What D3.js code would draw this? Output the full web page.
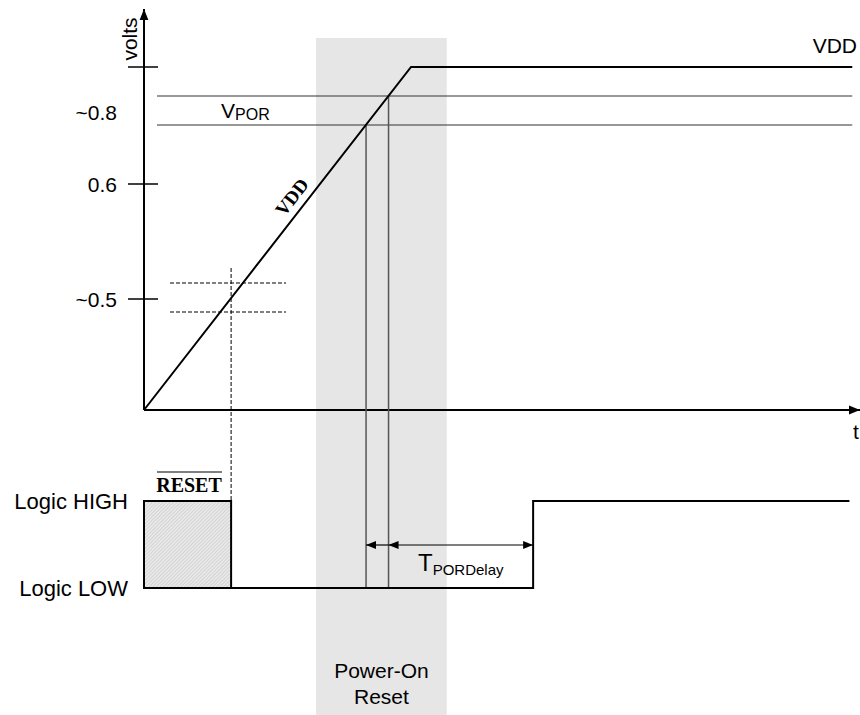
<!DOCTYPE html>
<html><head><meta charset="utf-8">
<script src="https://cdn.jsdelivr.net/npm/d3@7"></script>
<style>body{margin:0;background:#fff}svg{display:block}</style>
</head><body><svg id="c" width="860" height="715" font-family="Liberation Sans, Arial, sans-serif"></svg>
<script>
// time in arbitrary units (0..100), voltage normalized (0..1)
const rampPoints = [[0,0],[37.4,0.8575],[99.2,0.8575]];
const voltTicks = [{label:"VDD",v:0.8575},{label:"0.6",v:0.565},{label:"~0.5",v:0.2775}];
const tickOnlyLabel = [{label:"~0.8",v:0.745}];
const vporLevels = [0.785,0.7125];
const halfBand = [0.3175,0.245];
const resetRelease = 12.2;
const porCross = [31.1,34.25];
const porDelayEnd = 54.5;
const porRegion = [24.1,42.4];
const logicSignal = [[12.2,0],[54.5,0],[54.5,1],[98.8,1]];
const resetBox = [0,12.2];
const logicLabels = ["Logic LOW","Logic HIGH"];

const svg = d3.select("#c");
const x = d3.scaleLinear().domain([0,100]).range([144,858]);
const y = d3.scaleLinear().domain([0,1]).range([410,10]);
const yl = d3.scaleLinear().domain([0,1]).range([588,501]);
const FS = 21;

const defs = svg.append("defs");
const pat = defs.append("pattern").attr("id","hatch").attr("patternUnits","userSpaceOnUse")
  .attr("width",2.5).attr("height",2.5).attr("patternTransform","rotate(45)");
pat.append("rect").attr("width",2.5).attr("height",2.5).attr("fill","#e8e8e8");
pat.append("line").attr("x1",0).attr("y1",0).attr("x2",0).attr("y2",2.5).attr("stroke","#c4c4c4").attr("stroke-width",1);
const mk = (id,orient,w)=>{ const m=defs.append("marker").attr("id",id).attr("viewBox","0 0 10 10").attr("refX",10).attr("refY",5)
  .attr("markerWidth",w).attr("markerHeight",w).attr("markerUnits","userSpaceOnUse").attr("orient",orient);
  m.append("path").attr("d","M0,1 L10,5 L0,9 Z").attr("fill","#000"); };
mk("arr","auto",11); mk("arrs","auto-start-reverse",10); mk("arre","auto",10);

// shaded POR region
svg.append("rect").attr("x",x(porRegion[0])).attr("y",38).attr("width",x(porRegion[1])-x(porRegion[0])).attr("height",715-38).attr("fill","#e6e6e6");

// axes
svg.append("line").attr("x1",x(0)).attr("y1",y(0)).attr("x2",x(0)).attr("y2",9).attr("stroke","#000").attr("stroke-width",2).attr("marker-end","url(#arr)");
svg.append("line").attr("x1",x(0)).attr("y1",y(0)).attr("x2",860).attr("y2",y(0)).attr("stroke","#000").attr("stroke-width",2).attr("marker-end","url(#arr)");
svg.append("text").attr("x",853).attr("y",439).attr("font-size",FS).text("t");
svg.append("text").attr("transform","translate(137,39) rotate(-90)").attr("text-anchor","middle").attr("font-size",FS).text("volts");

voltTicks.forEach(t=>{
  svg.append("line").attr("x1",128).attr("x2",158).attr("y1",y(t.v)).attr("y2",y(t.v)).attr("stroke","#000").attr("stroke-width",1.5);
  if(t.label!=="VDD") svg.append("text").attr("x",117).attr("y",y(t.v)+7.5).attr("text-anchor","end").attr("font-size",FS).text(t.label);
});
tickOnlyLabel.forEach(t=>svg.append("text").attr("x",117).attr("y",y(t.v)+7.5).attr("text-anchor","end").attr("font-size",FS).text(t.label));
svg.append("text").attr("x",857).attr("y",53).attr("text-anchor","end").attr("font-size",FS).text("VDD");

// VPOR lines
vporLevels.forEach(v=>svg.append("line").attr("x1",157).attr("x2",x(99.2)).attr("y1",y(v)).attr("y2",y(v)).attr("stroke","#333").attr("stroke-width",1.2));
const vp = svg.append("text").attr("x",221).attr("y",118).attr("font-size",FS);
vp.append("tspan").text("V"); vp.append("tspan").attr("font-size",16).attr("dy",2).text("POR");

// dashed half band
halfBand.forEach(v=>svg.append("line").attr("x1",170).attr("x2",286).attr("y1",y(v)).attr("y2",y(v)).attr("stroke","#000").attr("stroke-width",1).attr("stroke-dasharray","4,2"));
svg.append("line").attr("x1",x(resetRelease)).attr("x2",x(resetRelease)).attr("y1",268).attr("y2",yl(1)).attr("stroke","#000").attr("stroke-width",1).attr("stroke-dasharray","4,2");

// VPOR crossing verticals
porCross.forEach((t,i)=>svg.append("line").attr("x1",x(t)).attr("x2",x(t)).attr("y1",y(vporLevels[1-i])).attr("y2",yl(0)).attr("stroke","#555").attr("stroke-width",1.5));

// VDD ramp
svg.append("path").attr("d",d3.line().x(d=>x(d[0])).y(d=>y(d[1]))(rampPoints)).attr("fill","none").attr("stroke","#000").attr("stroke-width",2);
svg.append("text").attr("transform","translate(297,201) rotate(-52)").attr("text-anchor","middle")
  .attr("font-family","Liberation Serif, Times New Roman, serif").attr("font-weight","bold").attr("font-size",19).text("VDD");

// reset box
svg.append("rect").attr("x",x(resetBox[0])).attr("y",yl(1)).attr("width",x(resetBox[1])-x(resetBox[0])).attr("height",yl(0)-yl(1))
  .attr("fill","url(#hatch)").attr("stroke","#000").attr("stroke-width",2);
svg.append("text").attr("x",189).attr("y",492).attr("text-anchor","middle").attr("font-family","Liberation Serif, Times New Roman, serif")
  .attr("font-weight","bold").attr("font-size",20).text("RESET");
svg.append("line").attr("x1",157).attr("x2",222).attr("y1",472).attr("y2",472).attr("stroke","#000").attr("stroke-width",1.2);

// logic signal
svg.append("path").attr("d",d3.line().x(d=>x(d[0])).y(d=>yl(d[1]))(logicSignal)).attr("fill","none").attr("stroke","#000").attr("stroke-width",2);
logicLabels.forEach((l,i)=>svg.append("text").attr("x",128).attr("y",yl(i)+7.5).attr("text-anchor","end").attr("font-size",22).text(l));

// T_PORDelay arrows
const ay = 545;
svg.append("line").attr("x1",x(porCross[0])).attr("x2",x(porCross[1])).attr("y1",ay).attr("y2",ay).attr("stroke","#000").attr("stroke-width",1.2).attr("marker-start","url(#arrs)");
svg.append("line").attr("x1",x(porCross[1])).attr("x2",x(porDelayEnd)).attr("y1",ay).attr("y2",ay).attr("stroke","#000").attr("stroke-width",1.2).attr("marker-start","url(#arrs)").attr("marker-end","url(#arre)");
const tp = svg.append("text").attr("x",418).attr("y",571).attr("font-size",24);
tp.append("tspan").text("T"); tp.append("tspan").attr("font-size",15).attr("dy",4).text("PORDelay");

// POR label
svg.append("text").attr("x",x((porRegion[0]+porRegion[1])/2)).attr("y",678).attr("text-anchor","middle").attr("font-size",FS).text("Power-On");
svg.append("text").attr("x",x((porRegion[0]+porRegion[1])/2)).attr("y",704).attr("text-anchor","middle").attr("font-size",FS).text("Reset");
</script></body></html>
